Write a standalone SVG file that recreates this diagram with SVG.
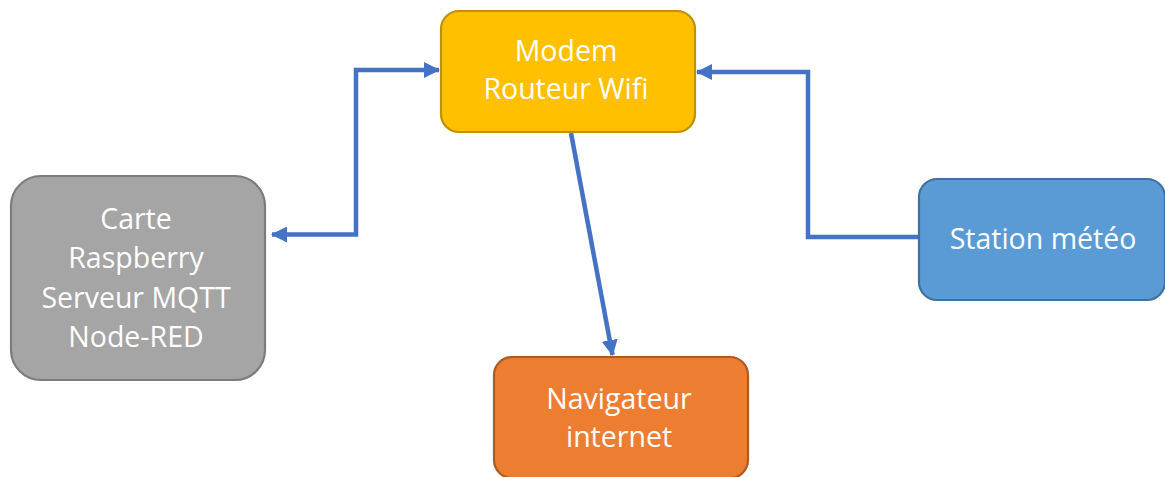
<svg xmlns="http://www.w3.org/2000/svg" width="1165" height="477" viewBox="0 0 1165 477">
  <style>
    .box { stroke-width: 2.2; }
    .label { font-family: "Open Sans", "Liberation Sans", sans-serif; font-size: 28.5px; fill: #ffffff; text-anchor: middle; }
    .link { fill: none; stroke: #4472C4; stroke-width: 4.5; }
  </style>
  <defs>
    <marker id="arrow" markerUnits="userSpaceOnUse" markerWidth="16" markerHeight="16" viewBox="0 0 16 16" refX="15" refY="8" orient="auto-start-reverse">
      <path d="M0,0 L16,8 L0,16 Z" fill="#4472C4"/>
    </marker>
  </defs>
  <rect width="1165" height="477" fill="#ffffff"/>

  <g id="connectors">
    <!-- Raspberry <-> Modem -->
    <path class="link" d="M272,234.5 H356 V70 H439" marker-start="url(#arrow)" marker-end="url(#arrow)"/>
    <!-- Station -> Modem -->
    <path class="link" d="M919,237 H808 V72 H697" marker-end="url(#arrow)"/>
    <!-- Modem -> Navigateur -->
    <path class="link" d="M571,133 L612.5,355" marker-end="url(#arrow)"/>
  </g>

  <g id="modem">
    <rect class="box" x="441" y="11" width="254" height="121" rx="18" fill="#FFC000" stroke="#BF9000"/>
    <text class="label" x="566" y="61">Modem</text>
    <text class="label" x="566" y="99">Routeur Wifi</text>
  </g>

  <g id="raspberry">
    <rect class="box" x="11" y="176" width="254" height="204" rx="30" fill="#A5A5A5" stroke="#7C7C7C"/>
    <text class="label" x="136" y="229">Carte</text>
    <text class="label" x="136" y="268">Raspberry</text>
    <text class="label" x="136" y="308">Serveur MQTT</text>
    <text class="label" x="136" y="347">Node-RED</text>
  </g>

  <g id="station">
    <rect class="box" x="919" y="179" width="246" height="121" rx="18" fill="#5B9BD5" stroke="#41719C"/>
    <text class="label" x="1043" y="249">Station météo</text>
  </g>

  <g id="navigateur">
    <rect class="box" x="494" y="357" width="254" height="121" rx="18" fill="#ED7D31" stroke="#AE5A21"/>
    <text class="label" x="619" y="409">Navigateur</text>
    <text class="label" x="619" y="447">internet</text>
  </g>
</svg>
